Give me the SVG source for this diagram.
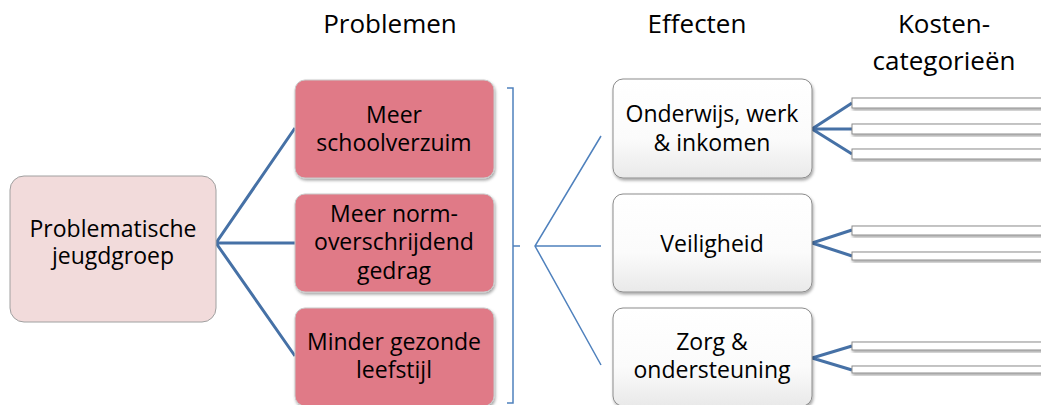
<svg xmlns="http://www.w3.org/2000/svg" width="1041" height="405" viewBox="0 0 1041 405">
<defs>
<linearGradient id="gw" x1="0" y1="0" x2="0" y2="1">
<stop offset="0" stop-color="#ffffff"/><stop offset="0.6" stop-color="#fbfbfb"/><stop offset="1" stop-color="#e9e9e9"/>
</linearGradient>
<filter id="sh" x="-10%" y="-10%" width="130%" height="140%">
<feDropShadow dx="1" dy="2" stdDeviation="1.5" flood-color="#000" flood-opacity="0.35"/>
</filter>
</defs>
<style>
text{font-family:"Open Sans","Liberation Sans",sans-serif;font-size:23px;fill:#000;text-anchor:middle}
.hd{font-size:26px}
.src{fill:#f2dbdb;stroke:#a0a0a0;stroke-width:1}
.prob{fill:#e07a87;stroke:#c9c9c9;stroke-width:1;filter:url(#sh)}
.eff{fill:url(#gw);stroke:#8c8c8c;stroke-width:1;filter:url(#sh)}
.bar{fill:#fff;stroke:#8c8c8c;stroke-width:1;filter:url(#sh)}
.thick{fill:none;stroke:#4671a6;stroke-width:3}
.thin{fill:none;stroke:#4f81bd;stroke-width:1.5}
</style>
<g id="headers">
<text class="hd" x="390" y="33">Problemen</text>
<text class="hd" x="697" y="33">Effecten</text>
<text class="hd" x="944" y="33">Kosten-</text>
<text class="hd" x="944" y="70">categorieën</text>
</g>
<g id="connectors">
<path class="thick" d="M295,128 L216,243 L295,356 M216,243 L295,243"/>
<path class="thin" d="M507,88 L513,88 L513,403 L507,403 M513,246 L520,246"/>
<path class="thin" d="M601,136 L535,246 L601,365 M535,246 L601,246"/>
<path class="thick" d="M852,103 L812,129 L852,154 M812,129 L852,129"/>
<path class="thick" d="M852,230 L812,243 L852,256"/>
<path class="thick" d="M852,346 L812,358 L852,370"/>
</g>
<g id="node-jeugdgroep">
<rect class="src" x="10" y="176" width="206" height="146" rx="14"/>
<text x="113" y="237">Problematische</text>
<text x="113" y="264">jeugdgroep</text>
</g>
<g id="node-schoolverzuim">
<rect class="prob" x="295" y="80" width="199" height="98" rx="10"/>
<text x="394" y="123">Meer</text>
<text x="394" y="151">schoolverzuim</text>
</g>
<g id="node-gedrag">
<rect class="prob" x="295" y="194" width="199" height="98" rx="10"/>
<text x="394" y="222">Meer norm-</text>
<text x="394" y="250">overschrijdend</text>
<text x="394" y="279">gedrag</text>
</g>
<g id="node-leefstijl">
<rect class="prob" x="295" y="308" width="199" height="98" rx="10"/>
<text x="394" y="350">Minder gezonde</text>
<text x="394" y="378">leefstijl</text>
</g>
<g id="node-onderwijs">
<rect class="eff" x="613" y="79" width="199" height="99" rx="10"/>
<text x="712" y="122">Onderwijs, werk</text>
<text x="712" y="151">&amp; inkomen</text>
</g>
<g id="node-veiligheid">
<rect class="eff" x="613" y="194" width="199" height="98" rx="10"/>
<text x="712" y="252">Veiligheid</text>
</g>
<g id="node-zorg">
<rect class="eff" x="613" y="308" width="199" height="98" rx="10"/>
<text x="712" y="350">Zorg &amp;</text>
<text x="712" y="378">ondersteuning</text>
</g>
<g id="cost-bars">
<rect class="bar" x="852" y="98" width="200" height="10"/>
<rect class="bar" x="852" y="124" width="200" height="10"/>
<rect class="bar" x="852" y="149" width="200" height="10"/>
<rect class="bar" x="852" y="226" width="200" height="9"/>
<rect class="bar" x="852" y="252" width="200" height="8"/>
<rect class="bar" x="852" y="342" width="200" height="8"/>
<rect class="bar" x="852" y="366" width="200" height="7"/>
</g>
</svg>
